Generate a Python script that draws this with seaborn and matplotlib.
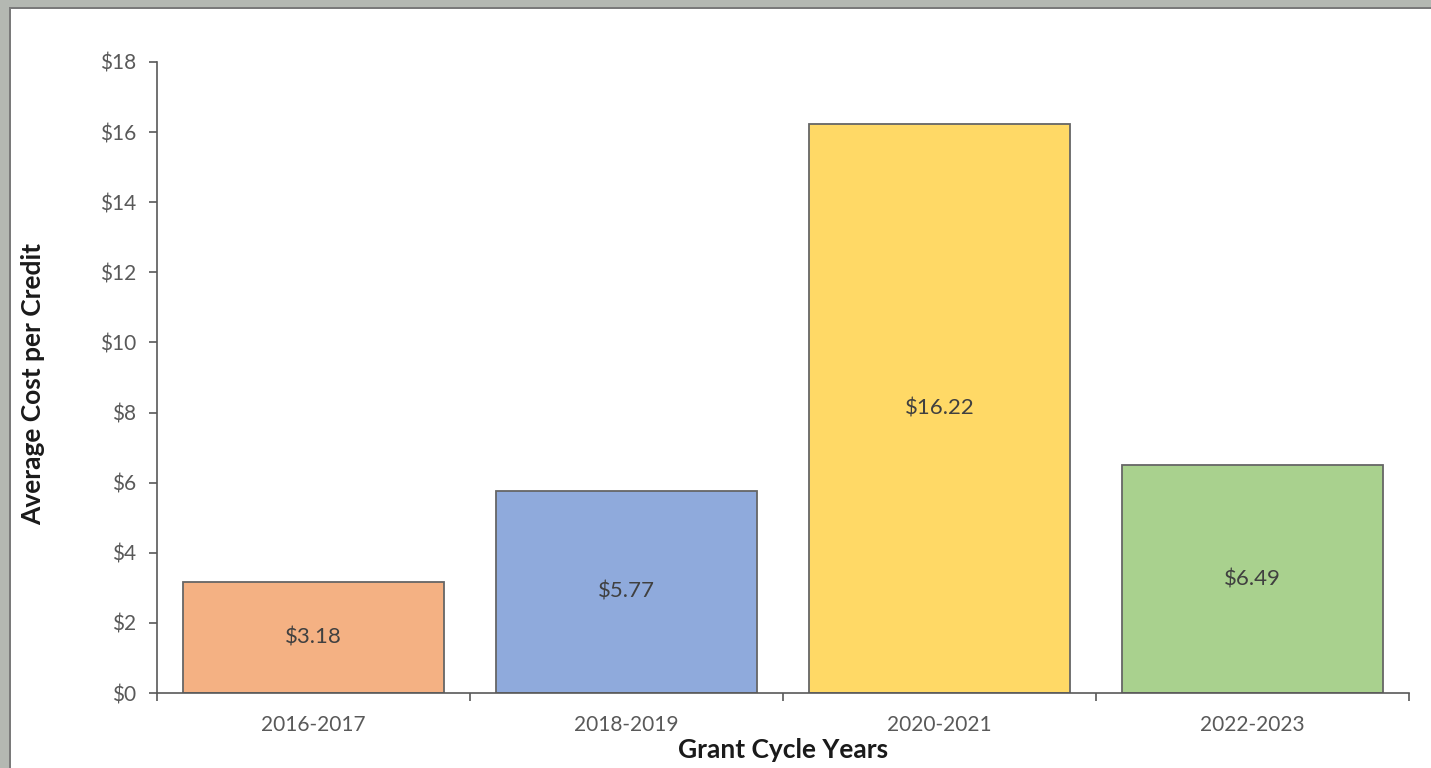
import matplotlib
matplotlib.use("Agg")
import matplotlib.pyplot as plt
from matplotlib.patches import Rectangle
from matplotlib.ticker import FixedLocator, FuncFormatter
import seaborn as sns
import pandas as pd

# Average cost per credit by grant cycle
cycles = ["2016-2017", "2018-2019", "2020-2021", "2022-2023"]
avg_cost = [3.18, 5.77, 16.22, 6.49]
bar_colors = ["#F4B183", "#8FAADC", "#FFD966", "#A9D18E"]

sns.set_theme(style="white")
plt.rcParams["font.family"] = ["Lato", "DejaVu Sans"]

W, H = 1431, 768
fig = plt.figure(figsize=(W / 100, H / 100), dpi=100)
fig.patch.set_facecolor("white")

# window frame around the chart area
fig.add_artist(Rectangle((0, 1 - 7 / H), 1, 7 / H, transform=fig.transFigure,
                         facecolor="#b4b8b2", edgecolor="none", zorder=0))
fig.add_artist(Rectangle((0, 0), 9 / W, 1, transform=fig.transFigure,
                         facecolor="#b4b8b2", edgecolor="none", zorder=0))
fig.add_artist(Rectangle((9 / W, 0), 2 / W, 1 - 7 / H, transform=fig.transFigure,
                         facecolor="#7a7a7a", edgecolor="none", zorder=1))
fig.add_artist(Rectangle((9 / W, 1 - 9 / H), 1 - 9 / W, 2 / H, transform=fig.transFigure,
                         facecolor="#7a7a7a", edgecolor="none", zorder=1))

ax = fig.add_axes([157 / W, 1 - 693 / H, (1409 - 157) / W, (693 - 62) / H])

df = pd.DataFrame({"cycle": cycles, "cost": avg_cost})
sns.barplot(data=df, x="cycle", y="cost", hue="cycle", palette=bar_colors,
            legend=False, width=0.834, edgecolor="#666666", linewidth=1.3,
            saturation=1, ax=ax)

for cont in ax.containers:
    ax.bar_label(cont, labels=[f"${v:.2f}" for v in cont.datavalues],
                 label_type="center", fontsize=16, color="#404040")

ax.set_xlim(-0.5, len(cycles) - 0.5)
ax.set_ylim(0, 18)
ax.set_yticks(range(0, 19, 2))
ax.yaxis.set_major_formatter(FuncFormatter(lambda v, p: f"${v:.0f}"))

# boundary ticks between categories, labels at category centres
ax.xaxis.set_major_locator(FixedLocator([i - 0.5 for i in range(len(cycles) + 1)]))
ax.xaxis.set_major_formatter(FuncFormatter(lambda v, p: ""))
ax.xaxis.set_minor_locator(FixedLocator(list(range(len(cycles)))))
ax.set_xticks(range(len(cycles)), labels=cycles, minor=True)

ax.tick_params(axis="x", which="major", direction="out", length=6, width=1.2,
               color="#595959", bottom=True)
ax.tick_params(axis="x", which="minor", length=0, pad=16, labelsize=15,
               labelcolor="#595959", bottom=True)
ax.tick_params(axis="y", direction="out", length=6, width=1.2, color="#595959",
               pad=9, labelsize=15, labelcolor="#595959", left=True)

for side in ["top", "right"]:
    ax.spines[side].set_visible(False)
for side in ["left", "bottom"]:
    ax.spines[side].set_color("#595959")
    ax.spines[side].set_linewidth(1.2)

ax.set_xlabel("Grant Cycle Years", fontsize=19, fontweight="bold",
              color="#1a1a1a", va="center")
ax.set_ylabel("Average Cost per Credit", fontsize=19, fontweight="bold",
              color="#1a1a1a", va="center")
ax.xaxis.set_label_coords(0.5, (693 - 750) / 631)
ax.yaxis.set_label_coords((33 - 157) / 1252, 0.49)

fig.savefig("out.png", dpi=100, facecolor=fig.get_facecolor())
